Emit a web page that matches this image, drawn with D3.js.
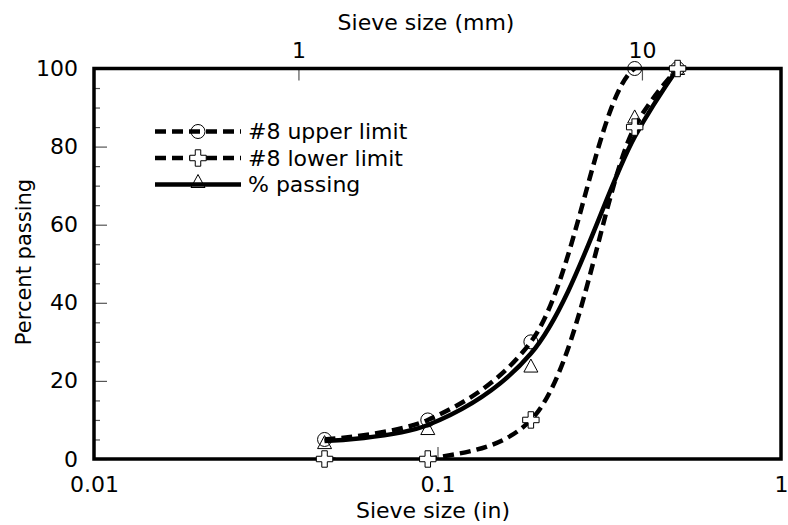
<!DOCTYPE html>
<html>
<head>
<meta charset="utf-8">
<script src="https://cdn.jsdelivr.net/npm/d3@7"></script>
<style>
  body { margin: 0; background: #fff; }
  svg text { font-family: "DejaVu Sans", sans-serif; fill: #000; }
</style>
</head>
<body>
<svg id="chart" width="788" height="525"></svg>
<script>
'use strict';

// sieve openings in inches (#16, #8, #4, 3/8", 1/2")
const sieveSizes = [0.0469, 0.0937, 0.187, 0.375, 0.5];
const upperLimit = [5, 10, 30, 100, 100];
const lowerLimit = [0, 0, 10, 85, 100];
// the solid curve and its triangle markers do not sit on the same values in the picture
const passingCurve = [4.6, 8.7, 27, 82.5, 100];
const passingMarks = [4.2, 7.8, 23.8, 87.6, 100];

const bottomTicks = [0.01, 0.1, 1];
const topTicks = [1, 10];
const yTicks = [0, 20, 40, 60, 80, 100];
const yMinorTicks = [5, 10, 15, 25, 30, 35, 45, 50, 55, 65, 70, 75, 85, 90, 95];

const legendItems = ['#8 upper limit', '#8 lower limit', '% passing'];

const svg = d3.select('#chart');
const plotLeft = 94, plotRight = 781, plotTop = 68.5, plotBottom = 459;
const fontSize = 22;

const x = d3.scaleLog().domain([0.01, 1]).range([plotLeft, plotRight]);
const xmm = d3.scaleLog().domain([0.254, 25.4]).range([plotLeft, plotRight]);
const y = d3.scaleLinear().domain([0, 100]).range([plotBottom, plotTop]);

svg.append('defs').append('clipPath').attr('id', 'plot-clip')
    .append('rect')
    .attr('x', plotLeft).attr('y', plotTop)
    .attr('width', plotRight - plotLeft).attr('height', plotBottom - plotTop + 1);

// axes, ticks pointing inwards
const yMinor = svg.append('g')
    .attr('transform', `translate(${plotLeft},0)`)
    .call(d3.axisLeft(y).tickValues(yMinorTicks).tickSize(-6).tickFormat(''));

const yAxis = svg.append('g')
    .attr('transform', `translate(${plotLeft},0)`)
    .call(d3.axisLeft(y).tickValues(yTicks).tickSize(-13).tickPadding(16));

const xAxis = svg.append('g')
    .attr('transform', `translate(0,${plotBottom})`)
    .call(d3.axisBottom(x).tickValues(bottomTicks).tickSize(-12).tickPadding(17)
        .tickFormat(d3.format('~g')));

const xTop = svg.append('g')
    .attr('transform', `translate(0,${plotTop})`)
    .call(d3.axisTop(xmm).tickValues(topTicks).tickSize(-12).tickPadding(11)
        .tickFormat(d3.format('~g')));

[yMinor, yAxis, xAxis, xTop].forEach((g) => {
    g.select('.domain').remove();
    g.selectAll('.tick line').attr('stroke', '#555').attr('stroke-width', 1.2);
    g.selectAll('.tick text').attr('font-size', fontSize);
});

// ends of the bottom axis sit on the frame corners, no tick line there
xAxis.selectAll('.tick line').filter((d) => d === 0.01 || d === 1).remove();

svg.append('text')
    .attr('x', 426).attr('y', 30)
    .attr('text-anchor', 'middle')
    .attr('font-size', fontSize)
    .text('Sieve size (mm)');

svg.append('text')
    .attr('x', 433).attr('y', 517.5)
    .attr('text-anchor', 'middle')
    .attr('font-size', fontSize)
    .text('Sieve size (in)');

svg.append('text')
    .attr('transform', 'translate(31,262) rotate(-90)')
    .attr('text-anchor', 'middle')
    .attr('font-size', 21)
    .text('Percent passing');

// frame
svg.append('rect')
    .attr('x', plotLeft).attr('y', plotTop)
    .attr('width', plotRight - plotLeft).attr('height', plotBottom - plotTop)
    .attr('fill', 'none')
    .attr('stroke', '#000')
    .attr('stroke-width', 3.5);

// smoothed lines; centripetal catmull-rom keeps the flat runs from dipping
const line = d3.line()
    .x((d) => x(d[0]))
    .y((d) => y(d[1]))
    .curve(d3.curveCatmullRom.alpha(0.5));

const series = [
    { values: upperLimit, dash: '11,6' },
    { values: lowerLimit, dash: '11,6' },
    { values: passingCurve, dash: null }
];

const lines = svg.append('g').attr('clip-path', 'url(#plot-clip)');
series.forEach((s) => {
    lines.append('path')
        .datum(sieveSizes.map((v, i) => [v, s.values[i]]))
        .attr('d', line)
        .attr('fill', 'none')
        .attr('stroke', '#000')
        .attr('stroke-width', 4.5)
        .attr('stroke-dasharray', s.dash);
});

// marker shapes
const plusPath = d3.symbol().type(d3.symbolCross).size(150)();
const triPath = 'M0,-7L7,6L-7,6Z';

function drawCircle(g, cx, cy) {
    g.append('circle')
        .attr('cx', cx).attr('cy', cy).attr('r', 7)
        .attr('fill', 'none').attr('stroke', '#000').attr('stroke-width', 1);
}
function drawPlus(g, cx, cy) {
    g.append('path')
        .attr('d', plusPath)
        .attr('transform', `translate(${cx},${cy})`)
        .attr('fill', '#fff').attr('stroke', '#000').attr('stroke-width', 1);
}
function drawTriangle(g, cx, cy) {
    g.append('path')
        .attr('d', triPath)
        .attr('transform', `translate(${cx},${cy})`)
        .attr('fill', 'none').attr('stroke', '#000').attr('stroke-width', 1);
}

const marks = svg.append('g');
sieveSizes.forEach((s, i) => {
    drawTriangle(marks, x(s), y(passingMarks[i]));
    drawCircle(marks, x(s), y(upperLimit[i]));
    drawPlus(marks, x(s), y(lowerLimit[i]));
});

// legend
const legend = svg.append('g');
const drawers = [drawCircle, drawPlus, drawTriangle];
legendItems.forEach((label, i) => {
    const ly = 131.5 + i * 26.5;
    legend.append('line')
        .attr('x1', 155).attr('x2', 241)
        .attr('y1', ly).attr('y2', ly)
        .attr('stroke', '#000')
        .attr('stroke-width', 4.5)
        .attr('stroke-dasharray', i < 2 ? '11,6' : null);
    drawers[i](legend, 198, i === 2 ? ly - 3 : ly);
    legend.append('text')
        .attr('x', 248).attr('y', ly)
        .attr('dy', '0.36em')
        .attr('font-size', fontSize)
        .text(label);
});
</script>
</body>
</html>
